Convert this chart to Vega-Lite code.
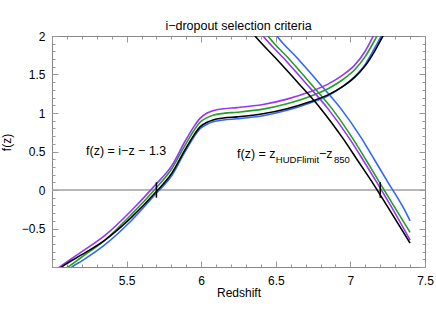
{
  "$schema": "https://vega.github.io/schema/vega-lite/v6.json",
  "width": 373,
  "height": 231,
  "autosize": "none",
  "padding": {"left": 52, "top": 36, "right": 11, "bottom": 51},
  "title": {"text": "i−dropout selection criteria", "font": "Liberation Sans", "fontSize": 12.5, "fontWeight": "normal", "color": "#000", "frame": "group", "anchor": "middle", "offset": -2},
  "config": {
    "view": {"stroke": "#888", "strokeWidth": 1},
    "axis": {"domain": false, "grid": false, "tickColor": "#999", "labelFont": "Liberation Sans", "labelFontSize": 12, "labelColor": "#000", "titleFont": "Liberation Sans", "titleFontSize": 12, "titleFontWeight": "normal", "titleColor": "#000", "labelOverlap": false, "labelFlush": false, "labelBound": false}
  },
  "datasets": {
    "curves": [
      {"curve": "rb", "series": "blue", "x": 5.05, "y": -1.14},
      {"curve": "rb", "series": "blue", "x": 5.14, "y": -0.99},
      {"curve": "rb", "series": "blue", "x": 5.2, "y": -0.92},
      {"curve": "rb", "series": "blue", "x": 5.355, "y": -0.71},
      {"curve": "rb", "series": "blue", "x": 5.536, "y": -0.39},
      {"curve": "rb", "series": "blue", "x": 5.69, "y": -0.06},
      {"curve": "rb", "series": "blue", "x": 5.804, "y": 0.19},
      {"curve": "rb", "series": "blue", "x": 5.891, "y": 0.495},
      {"curve": "rb", "series": "blue", "x": 5.95, "y": 0.685},
      {"curve": "rb", "series": "blue", "x": 5.992, "y": 0.795},
      {"curve": "rb", "series": "blue", "x": 6.04, "y": 0.855},
      {"curve": "rb", "series": "blue", "x": 6.079, "y": 0.885},
      {"curve": "rb", "series": "blue", "x": 6.15, "y": 0.91},
      {"curve": "rb", "series": "blue", "x": 6.24, "y": 0.925},
      {"curve": "rb", "series": "blue", "x": 6.414, "y": 0.965},
      {"curve": "rb", "series": "blue", "x": 6.575, "y": 1.035},
      {"curve": "rb", "series": "blue", "x": 6.729, "y": 1.13},
      {"curve": "rb", "series": "blue", "x": 6.85, "y": 1.225},
      {"curve": "rb", "series": "blue", "x": 6.95, "y": 1.345},
      {"curve": "rb", "series": "blue", "x": 7.03, "y": 1.475},
      {"curve": "rb", "series": "blue", "x": 7.1, "y": 1.635},
      {"curve": "rb", "series": "blue", "x": 7.16, "y": 1.835},
      {"curve": "rb", "series": "blue", "x": 7.21, "y": 2.01},
      {"curve": "rb", "series": "blue", "x": 7.24, "y": 2.11},
      {"curve": "fb", "series": "blue", "x": 6.49, "y": 2.05},
      {"curve": "fb", "series": "blue", "x": 6.508, "y": 2.0},
      {"curve": "fb", "series": "blue", "x": 6.645, "y": 1.71},
      {"curve": "fb", "series": "blue", "x": 6.79, "y": 1.39},
      {"curve": "fb", "series": "blue", "x": 6.935, "y": 1.06},
      {"curve": "fb", "series": "blue", "x": 7.075, "y": 0.67},
      {"curve": "fb", "series": "blue", "x": 7.165, "y": 0.38},
      {"curve": "fb", "series": "blue", "x": 7.255, "y": 0.09},
      {"curve": "fb", "series": "blue", "x": 7.352, "y": -0.22},
      {"curve": "fb", "series": "blue", "x": 7.4, "y": -0.4},
      {"curve": "rg", "series": "green", "x": 5.05, "y": -1.07},
      {"curve": "rg", "series": "green", "x": 5.107, "y": -1.0},
      {"curve": "rg", "series": "green", "x": 5.2, "y": -0.87},
      {"curve": "rg", "series": "green", "x": 5.355, "y": -0.65},
      {"curve": "rg", "series": "green", "x": 5.536, "y": -0.31},
      {"curve": "rg", "series": "green", "x": 5.69, "y": 0.01},
      {"curve": "rg", "series": "green", "x": 5.804, "y": 0.28},
      {"curve": "rg", "series": "green", "x": 5.891, "y": 0.58},
      {"curve": "rg", "series": "green", "x": 5.95, "y": 0.77},
      {"curve": "rg", "series": "green", "x": 5.992, "y": 0.88},
      {"curve": "rg", "series": "green", "x": 6.04, "y": 0.94},
      {"curve": "rg", "series": "green", "x": 6.079, "y": 0.97},
      {"curve": "rg", "series": "green", "x": 6.15, "y": 0.995},
      {"curve": "rg", "series": "green", "x": 6.24, "y": 1.01},
      {"curve": "rg", "series": "green", "x": 6.414, "y": 1.05},
      {"curve": "rg", "series": "green", "x": 6.575, "y": 1.12},
      {"curve": "rg", "series": "green", "x": 6.729, "y": 1.215},
      {"curve": "rg", "series": "green", "x": 6.85, "y": 1.315},
      {"curve": "rg", "series": "green", "x": 6.95, "y": 1.435},
      {"curve": "rg", "series": "green", "x": 7.03, "y": 1.565},
      {"curve": "rg", "series": "green", "x": 7.1, "y": 1.735},
      {"curve": "rg", "series": "green", "x": 7.16, "y": 1.935},
      {"curve": "rg", "series": "green", "x": 7.2, "y": 2.08},
      {"curve": "fg", "series": "green", "x": 6.43, "y": 2.05},
      {"curve": "fg", "series": "green", "x": 6.448, "y": 2.0},
      {"curve": "fg", "series": "green", "x": 6.585, "y": 1.71},
      {"curve": "fg", "series": "green", "x": 6.73, "y": 1.39},
      {"curve": "fg", "series": "green", "x": 6.875, "y": 1.06},
      {"curve": "fg", "series": "green", "x": 7.015, "y": 0.67},
      {"curve": "fg", "series": "green", "x": 7.108, "y": 0.38},
      {"curve": "fg", "series": "green", "x": 7.198, "y": 0.09},
      {"curve": "fg", "series": "green", "x": 7.295, "y": -0.22},
      {"curve": "fg", "series": "green", "x": 7.4, "y": -0.55},
      {"curve": "rp", "series": "purple", "x": 5.03, "y": -1.03},
      {"curve": "rp", "series": "purple", "x": 5.087, "y": -0.95},
      {"curve": "rp", "series": "purple", "x": 5.2, "y": -0.8},
      {"curve": "rp", "series": "purple", "x": 5.355, "y": -0.59},
      {"curve": "rp", "series": "purple", "x": 5.536, "y": -0.26},
      {"curve": "rp", "series": "purple", "x": 5.69, "y": 0.06},
      {"curve": "rp", "series": "purple", "x": 5.804, "y": 0.32},
      {"curve": "rp", "series": "purple", "x": 5.891, "y": 0.63},
      {"curve": "rp", "series": "purple", "x": 5.95, "y": 0.82},
      {"curve": "rp", "series": "purple", "x": 5.992, "y": 0.93},
      {"curve": "rp", "series": "purple", "x": 6.04, "y": 1.0},
      {"curve": "rp", "series": "purple", "x": 6.079, "y": 1.03},
      {"curve": "rp", "series": "purple", "x": 6.15, "y": 1.055},
      {"curve": "rp", "series": "purple", "x": 6.24, "y": 1.07},
      {"curve": "rp", "series": "purple", "x": 6.414, "y": 1.11},
      {"curve": "rp", "series": "purple", "x": 6.575, "y": 1.18},
      {"curve": "rp", "series": "purple", "x": 6.729, "y": 1.275},
      {"curve": "rp", "series": "purple", "x": 6.85, "y": 1.375},
      {"curve": "rp", "series": "purple", "x": 6.95, "y": 1.495},
      {"curve": "rp", "series": "purple", "x": 7.03, "y": 1.625},
      {"curve": "rp", "series": "purple", "x": 7.1, "y": 1.805},
      {"curve": "rp", "series": "purple", "x": 7.16, "y": 2.025},
      {"curve": "rp", "series": "purple", "x": 7.2, "y": 2.17},
      {"curve": "fp", "series": "purple", "x": 6.395, "y": 2.05},
      {"curve": "fp", "series": "purple", "x": 6.415, "y": 2.0},
      {"curve": "fp", "series": "purple", "x": 6.553, "y": 1.71},
      {"curve": "fp", "series": "purple", "x": 6.7, "y": 1.39},
      {"curve": "fp", "series": "purple", "x": 6.848, "y": 1.06},
      {"curve": "fp", "series": "purple", "x": 6.993, "y": 0.67},
      {"curve": "fp", "series": "purple", "x": 7.088, "y": 0.38},
      {"curve": "fp", "series": "purple", "x": 7.18, "y": 0.09},
      {"curve": "fp", "series": "purple", "x": 7.275, "y": -0.22},
      {"curve": "fp", "series": "purple", "x": 7.4, "y": -0.65},
      {"curve": "rk", "series": "black", "x": 5.03, "y": -1.05},
      {"curve": "rk", "series": "black", "x": 5.087, "y": -0.97},
      {"curve": "rk", "series": "black", "x": 5.2, "y": -0.84},
      {"curve": "rk", "series": "black", "x": 5.355, "y": -0.65},
      {"curve": "rk", "series": "black", "x": 5.536, "y": -0.35},
      {"curve": "rk", "series": "black", "x": 5.69, "y": -0.04},
      {"curve": "rk", "series": "black", "x": 5.804, "y": 0.22},
      {"curve": "rk", "series": "black", "x": 5.891, "y": 0.52},
      {"curve": "rk", "series": "black", "x": 5.95, "y": 0.71},
      {"curve": "rk", "series": "black", "x": 5.992, "y": 0.82},
      {"curve": "rk", "series": "black", "x": 6.04, "y": 0.88},
      {"curve": "rk", "series": "black", "x": 6.079, "y": 0.91},
      {"curve": "rk", "series": "black", "x": 6.15, "y": 0.935},
      {"curve": "rk", "series": "black", "x": 6.24, "y": 0.95},
      {"curve": "rk", "series": "black", "x": 6.414, "y": 0.99},
      {"curve": "rk", "series": "black", "x": 6.575, "y": 1.055},
      {"curve": "rk", "series": "black", "x": 6.729, "y": 1.145},
      {"curve": "rk", "series": "black", "x": 6.85, "y": 1.235},
      {"curve": "rk", "series": "black", "x": 6.95, "y": 1.345},
      {"curve": "rk", "series": "black", "x": 7.03, "y": 1.465},
      {"curve": "rk", "series": "black", "x": 7.1, "y": 1.615},
      {"curve": "rk", "series": "black", "x": 7.16, "y": 1.795},
      {"curve": "rk", "series": "black", "x": 7.218, "y": 2.0},
      {"curve": "rk", "series": "black", "x": 7.25, "y": 2.11},
      {"curve": "fk", "series": "black", "x": 6.34, "y": 2.05},
      {"curve": "fk", "series": "black", "x": 6.361, "y": 2.0},
      {"curve": "fk", "series": "black", "x": 6.5, "y": 1.71},
      {"curve": "fk", "series": "black", "x": 6.65, "y": 1.39},
      {"curve": "fk", "series": "black", "x": 6.8, "y": 1.06},
      {"curve": "fk", "series": "black", "x": 6.95, "y": 0.67},
      {"curve": "fk", "series": "black", "x": 7.05, "y": 0.38},
      {"curve": "fk", "series": "black", "x": 7.15, "y": 0.09},
      {"curve": "fk", "series": "black", "x": 7.25, "y": -0.22},
      {"curve": "fk", "series": "black", "x": 7.4, "y": -0.69}
    ],
    "cuts": [
      {"x": 5.7, "y": -0.1, "y2": 0.1},
      {"x": 7.2, "y": -0.1, "y2": 0.1}
    ],
    "labels": [
      {"x": 5.228, "y": 0.455, "text": "f(z) = i−z − 1.3"},
      {"x": 6.24, "y": 0.416, "text": "f(z) = z"},
      {"x": 6.79, "y": 0.416, "text": "−z"}
    ],
    "subs": [
      {"x": 6.5, "y": 0.351, "text": "HUDFlimit"},
      {"x": 6.89, "y": 0.351, "text": "850"}
    ]
  },
  "layer": [
    {
      "data": {"values": [{"y": 0}]},
      "mark": {"type": "rule", "color": "#a0a0a0", "strokeWidth": 1.5},
      "encoding": {
        "y": {"field": "y", "type": "quantitative", "scale": {"domain": [-1, 2], "nice": false, "zero": false}, "axis": null}
      }
    },
    {
      "data": {"name": "curves"},
      "mark": {"type": "line", "strokeWidth": 1.6, "clip": true, "interpolate": "monotone"},
      "encoding": {
        "x": {"field": "x", "type": "quantitative", "scale": {"domain": [5, 7.5], "nice": false, "zero": false},
          "axis": {"orient": "bottom", "values": [5.5, 6, 6.5, 7, 7.5], "format": "~g", "ticks": false,
            "labelPadding": 8, "title": "Redshift", "titlePadding": 1}},
        "y": {"field": "y", "type": "quantitative", "scale": {"domain": [-1, 2], "nice": false, "zero": false},
          "axis": {"orient": "left", "values": [-0.5, 0, 0.5, 1, 1.5, 2], "format": "~g", "ticks": false,
            "labelPadding": 7, "title": "f(z)", "titlePadding": 8, "titleY": 106}},
        "color": {"field": "series", "type": "nominal", "scale": {"domain": ["blue", "green", "purple", "black"], "range": ["#3366ff", "#22a022", "#9933ff", "#000000"]}, "legend": null},
        "detail": {"field": "curve"}
      }
    },
    {
      "data": {"name": "cuts"},
      "mark": {"type": "rule", "color": "#000", "strokeWidth": 1.5},
      "encoding": {
        "x": {"field": "x", "type": "quantitative", "scale": {"domain": [5, 7.5], "nice": false, "zero": false},
          "axis": {"orient": "top", "values": [5, 5.1, 5.2, 5.3, 5.4, 5.5, 5.6, 5.7, 5.8, 5.9, 6, 6.1, 6.2, 6.3, 6.4, 6.5, 6.6, 6.7, 6.8, 6.9, 7, 7.1, 7.2, 7.3, 7.4, 7.5], "labels": false, "title": null,
            "tickSize": {"condition": {"test": "abs(datum.value*2 - round(datum.value*2)) < 0.001", "value": -6}, "value": -3}}},
        "y": {"field": "y", "type": "quantitative", "scale": {"domain": [-1, 2], "nice": false, "zero": false},
          "axis": {"orient": "right", "values": [-1, -0.9, -0.8, -0.7, -0.6, -0.5, -0.4, -0.3, -0.2, -0.1, 0, 0.1, 0.2, 0.3, 0.4, 0.5, 0.6, 0.7, 0.8, 0.9, 1, 1.1, 1.2, 1.3, 1.4, 1.5, 1.6, 1.7, 1.8, 1.9, 2], "labels": false, "title": null,
            "tickSize": {"condition": {"test": "abs(datum.value*2 - round(datum.value*2)) < 0.001", "value": -6}, "value": -3}}},
        "y2": {"field": "y2"}
      }
    },
    {
      "data": {"name": "labels"},
      "mark": {"type": "text", "font": "Liberation Sans", "fontSize": 12.5, "color": "#000", "align": "left", "baseline": "alphabetic"},
      "encoding": {
        "x": {"field": "x", "type": "quantitative", "scale": {"domain": [5, 7.5], "nice": false, "zero": false},
          "axis": {"orient": "bottom", "values": [5, 5.1, 5.2, 5.3, 5.4, 5.5, 5.6, 5.7, 5.8, 5.9, 6, 6.1, 6.2, 6.3, 6.4, 6.5, 6.6, 6.7, 6.8, 6.9, 7, 7.1, 7.2, 7.3, 7.4, 7.5], "labels": false, "title": null,
            "tickSize": {"condition": {"test": "abs(datum.value*2 - round(datum.value*2)) < 0.001", "value": -6}, "value": -3}}},
        "y": {"field": "y", "type": "quantitative", "scale": {"domain": [-1, 2], "nice": false, "zero": false},
          "axis": {"orient": "left", "values": [-1, -0.9, -0.8, -0.7, -0.6, -0.5, -0.4, -0.3, -0.2, -0.1, 0, 0.1, 0.2, 0.3, 0.4, 0.5, 0.6, 0.7, 0.8, 0.9, 1, 1.1, 1.2, 1.3, 1.4, 1.5, 1.6, 1.7, 1.8, 1.9, 2], "labels": false, "title": null,
            "tickSize": {"condition": {"test": "abs(datum.value*2 - round(datum.value*2)) < 0.001", "value": -6}, "value": -3}}},
        "text": {"field": "text"}
      }
    },
    {
      "data": {"name": "subs"},
      "mark": {"type": "text", "font": "Liberation Sans", "fontSize": 9.5, "color": "#000", "align": "left", "baseline": "alphabetic"},
      "encoding": {
        "x": {"field": "x", "type": "quantitative", "scale": {"domain": [5, 7.5], "nice": false, "zero": false}, "axis": null},
        "y": {"field": "y", "type": "quantitative", "scale": {"domain": [-1, 2], "nice": false, "zero": false}, "axis": null},
        "text": {"field": "text"}
      }
    }
  ],
  "resolve": {"axis": {"x": "independent", "y": "independent"}}
}
